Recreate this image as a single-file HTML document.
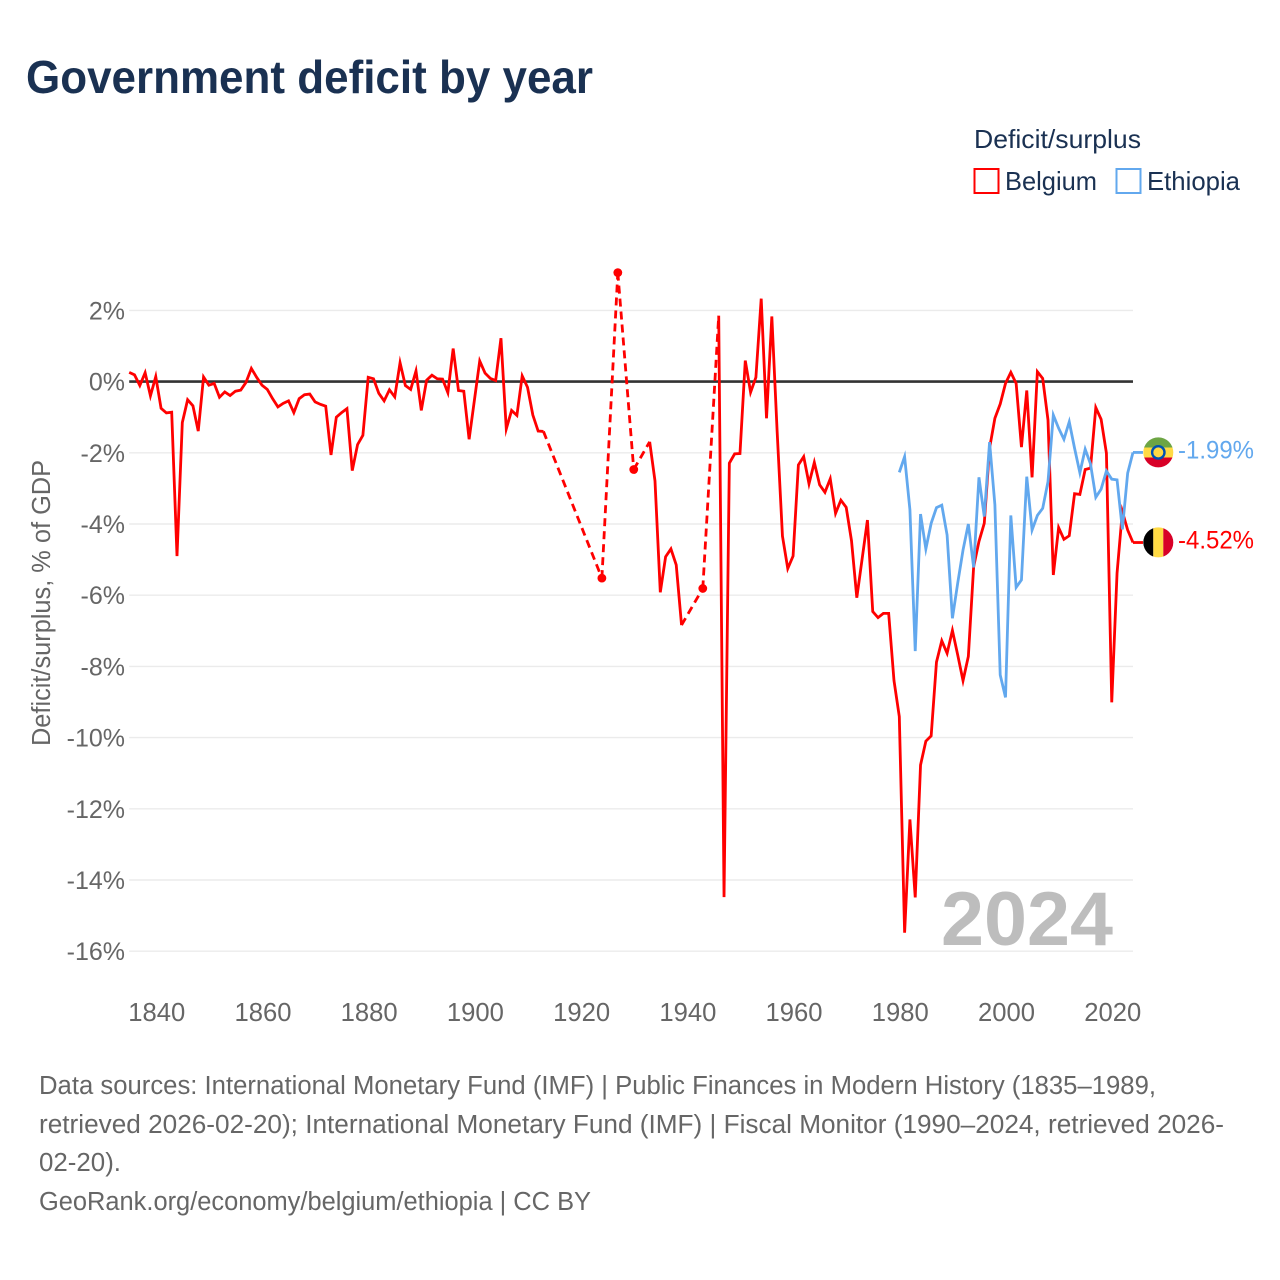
<!DOCTYPE html>
<html lang="en">
<head>
<meta charset="utf-8">
<title>Government deficit by year</title>
<style>
html,body{margin:0;padding:0;background:#fff;width:1280px;height:1280px;overflow:hidden}
svg{display:block}
text{font-family:"Liberation Sans",Arial,sans-serif}
</style>
</head>
<body>
<svg id="chart" xmlns="http://www.w3.org/2000/svg" width="1280" height="1280" viewBox="0 0 1280 1280">
  <defs>
    <clipPath id="flag-clip-eth"><circle cx="1158.3" cy="452.4" r="15"/></clipPath>
    <clipPath id="flag-clip-bel"><circle cx="1158.3" cy="542.4" r="15"/></clipPath>
  </defs>
  <rect x="0" y="0" width="1280" height="1280" fill="#ffffff"/>
  <text x="26" y="93" font-size="46" font-weight="700" fill="#1a3152" textLength="567" lengthAdjust="spacingAndGlyphs">Government deficit by year</text>

  <g>
    <text x="974" y="148" font-size="26" fill="#1a3152" textLength="167" lengthAdjust="spacingAndGlyphs">Deficit/surplus</text>
    <rect x="974.5" y="169" width="24" height="24" fill="#fff" stroke="#ff0000" stroke-width="2"/>
    <text x="1005" y="190" font-size="26" fill="#1a3152" textLength="92" lengthAdjust="spacingAndGlyphs">Belgium</text>
    <rect x="1116.5" y="169" width="24" height="24" fill="#fff" stroke="#62a8ee" stroke-width="2"/>
    <text x="1147" y="190" font-size="26" fill="#1a3152" textLength="93" lengthAdjust="spacingAndGlyphs">Ethiopia</text>
  </g>

  <g id="grid"></g>
  <g id="yticks"></g>
  <g id="xticks"></g>
  <text transform="translate(50,603) rotate(-90)" text-anchor="middle" font-size="25.5" fill="#666666" textLength="286" lengthAdjust="spacingAndGlyphs">Deficit/surplus, % of GDP</text>
  <text x="941" y="945" font-size="76" font-weight="700" fill="#bdbdbd" textLength="172" lengthAdjust="spacingAndGlyphs">2024</text>

  <g id="series"></g>

  <g clip-path="url(#flag-clip-eth)">
    <rect x="1143" y="437" width="31" height="11" fill="#6da544"/>
    <rect x="1143" y="447.5" width="31" height="10.5" fill="#ffda44"/>
    <rect x="1143" y="457.5" width="31" height="10.5" fill="#d80027"/>
    <circle cx="1158.3" cy="452.4" r="7.4" fill="#0052b4"/>
    <circle cx="1158.3" cy="452.4" r="5" fill="#ffda44"/>
  </g>
  <g clip-path="url(#flag-clip-bel)">
    <rect x="1143" y="527" width="10.3" height="31" fill="#000000"/>
    <rect x="1153.3" y="527" width="10" height="31" fill="#ffda44"/>
    <rect x="1163.3" y="527" width="10.7" height="31" fill="#d80027"/>
  </g>

  <g id="endlabels"></g>

  <g font-size="25.5" fill="#666666">
    <text x="39" y="1094" textLength="1117" lengthAdjust="spacingAndGlyphs">Data sources: International Monetary Fund (IMF) | Public Finances in Modern History (1835–1989,</text>
    <text x="39" y="1133" textLength="1185" lengthAdjust="spacingAndGlyphs">retrieved 2026-02-20); International Monetary Fund (IMF) | Fiscal Monitor (1990–2024, retrieved 2026-</text>
    <text x="39" y="1171" textLength="82" lengthAdjust="spacingAndGlyphs">02-20).</text>
    <text x="39" y="1210" textLength="552" lengthAdjust="spacingAndGlyphs">GeoRank.org/economy/belgium/ethiopia | CC BY</text>
  </g>
</svg>
<script>
const xTickYears = [1840, 1860, 1880, 1900, 1920, 1940, 1960, 1980, 2000, 2020];
const yTickValues = [2, 0, -2, -4, -6, -8, -10, -12, -14, -16];
const belgiumStartYear = 1835;
const belgiumValues = [
  0.26, 0.19, -0.11, 0.25, -0.40,
  0.14, -0.75, -0.88, -0.86, -4.90, -1.15, -0.51, -0.68, -1.39, 0.13,
  -0.10, -0.05, -0.44, -0.29, -0.39, -0.27, -0.24, -0.02, 0.37, 0.12,
  -0.10, -0.22, -0.48, -0.71, -0.61, -0.54, -0.87, -0.48, -0.37, -0.35,
  -0.57, -0.64, -0.69, -2.06, -1.00, -0.87, -0.76, -2.50, -1.77, -1.51,
  0.12, 0.08, -0.33, -0.54, -0.23, -0.43, 0.53, -0.11, -0.22, 0.30,
  -0.81, 0.04, 0.18, 0.08, 0.07, -0.31, 0.93, -0.25, -0.27, -1.62,
  -0.52, 0.58, 0.24, 0.09, 0.03, 1.22, -1.33, -0.81, -0.95, 0.16,
  -0.16, -0.94, -1.39, -1.40,
  null, null, null, null, null, null, null, null, null, null,
  -5.52, null, null, 3.06, null, null, -2.47, null, null,
  -1.69, -2.79, -5.92, -4.92, -4.70, -5.15, -6.84,
  null, null, null, -5.81, null, null,
  1.85, -14.48, -2.29, -2.03, -2.02, 0.59, -0.30, 0.12, 2.33, -1.03, 1.83,
  -1.40, -4.34, -5.25, -4.90, -2.34, -2.11, -2.87, -2.27, -2.90, -3.11,
  -2.73, -3.70, -3.33, -3.53, -4.47, -6.07, -4.98, -3.89, -6.46, -6.63,
  -6.51, -6.51, -8.40, -9.41, -15.48, -12.30, -14.49, -10.77, -10.10, -9.95,
  -7.88, -7.28, -7.63, -6.99, -7.68, -8.40, -7.72, -5.20, -4.49, -3.98,
  -1.87, -1.03, -0.63, -0.05, 0.26, -0.05, -1.84, -0.25, -2.69, 0.28,
  0.09, -1.08, -5.43, -4.10, -4.43, -4.33, -3.15, -3.17, -2.47, -2.43,
  -0.73, -1.06, -2.01, -9.01, -5.38, -3.65, -4.17, -4.52
];
const ethiopiaStartYear = 1980;
const ethiopiaValues = [
  -2.55, -2.11, -3.60, -7.57, -3.72, -4.70, -3.98, -3.54, -3.47, -4.31,
  -6.65, -5.66, -4.73, -4.00, -5.22, -2.69, -3.79, -1.70, -3.46, -8.24,
  -8.87, -3.76, -5.78, -5.57, -2.67, -4.17, -3.76, -3.56, -2.81, -0.94,
  -1.31, -1.62, -1.13, -1.87, -2.56, -1.90, -2.31, -3.25, -3.02, -2.51,
  -2.74, -2.76, -4.15, -2.57, -1.99
];

const svgNS = 'http://www.w3.org/2000/svg';
const RED = '#ff0000';
const BLUE = '#62a8ee';
const LINE_WIDTH = 2.8;
function xScale(year) { return 177 + (year - 1844) * 5.311; }
function yScale(value) { return 381.6 - value * 35.6; }
const plotLeft = xScale(1835);
const plotRight = xScale(2024);

function make(tag, attrs, parent) {
  const el = document.createElementNS(svgNS, tag);
  for (const k in attrs) el.setAttribute(k, attrs[k]);
  parent.appendChild(el);
  return el;
}

const gridG = document.getElementById('grid');
const yTickG = document.getElementById('yticks');
yTickValues.forEach(function (v) {
  const line = make('line', { x1: plotLeft, x2: plotRight, y1: yScale(v), y2: yScale(v), stroke: v === 0 ? '#333333' : '#ebebeb', 'stroke-width': v === 0 ? 2.6 : 1.4 }, gridG);
  
  
  const label = make('text', { x: 125, y: yScale(v) + 9, 'text-anchor': 'end', 'font-size': 25, fill: '#666666' }, yTickG);
  label.textContent = v + '%';
  
  
});

const xTickG = document.getElementById('xticks');
xTickYears.forEach(function (yr) {
  const label = make('text', { x: xScale(yr) + 1, y: 1021, 'text-anchor': 'middle', 'font-size': 25.5, fill: '#666666', textLength: 57, lengthAdjust: 'spacingAndGlyphs' }, xTickG);
  label.textContent = String(yr);
  
  
});

function drawSeries(name, startYear, values, color) {
  const group = make('g', {}, document.getElementById('series'));
  
  
  const points = [];
  values.forEach(function (v, i) {
    if (v !== null) points.push({ idx: i, x: xScale(startYear + i), y: yScale(v) });
  });
  let run = [];
  function flush() {
    if (run.length === 1) {
      const dot = make('circle', { cx: run[0].x, cy: run[0].y, r: 4.4, fill: color }, group);
      
      
    } else if (run.length > 1) {
      const poly = make('polyline', { points: run.map(function (p) { return p.x.toFixed(2) + ',' + p.y.toFixed(2); }).join(' '), fill: 'none', stroke: color, 'stroke-width': LINE_WIDTH, 'stroke-linejoin': 'miter', 'stroke-miterlimit': 6 }, group);
      
      
    }
    run = [];
  }
  points.forEach(function (p, k) {
    if (k > 0 && p.idx !== points[k - 1].idx + 1) {
      flush();
      const q = points[k - 1];
      const dash = make('line', { x1: q.x, y1: q.y, x2: p.x, y2: p.y, stroke: color, 'stroke-width': LINE_WIDTH, 'stroke-dasharray': '8 5' }, group);
      
      
    }
    run.push(p);
  });
  flush();
  const last = points[points.length - 1];
  const tail = make('line', { x1: last.x, y1: last.y, x2: last.x + 10, y2: last.y, stroke: color, 'stroke-width': LINE_WIDTH }, group);
  
  
  const label = make('text', { x: 1178, y: last.y + 6, 'font-size': 25, fill: color, textLength: 76, lengthAdjust: 'spacingAndGlyphs' }, document.getElementById('endlabels'));
  label.textContent = values[values.length - 1].toFixed(2) + '%';
  
  
}

drawSeries('belgium', belgiumStartYear, belgiumValues, RED);
drawSeries('ethiopia', ethiopiaStartYear, ethiopiaValues, BLUE);
</script>
</body>
</html>
